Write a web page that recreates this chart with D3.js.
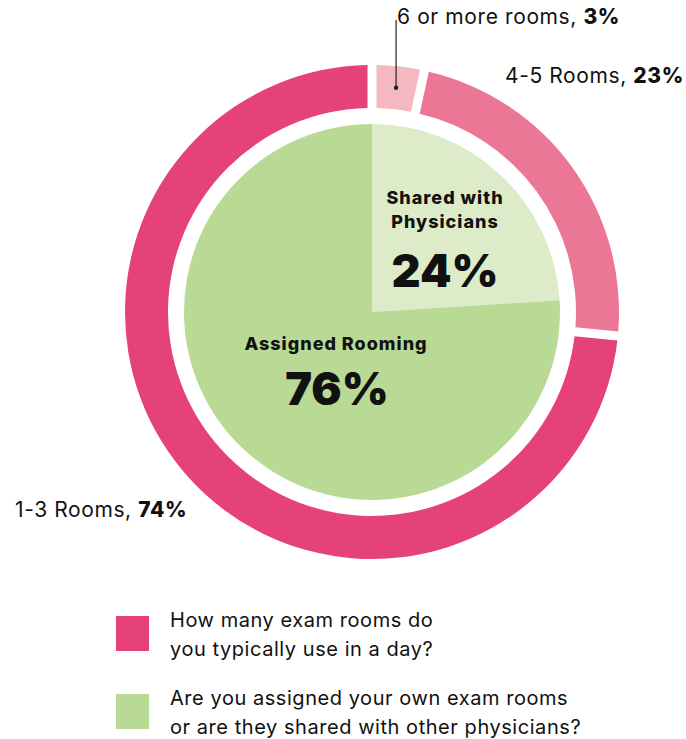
<!DOCTYPE html>
<html>
<head>
<meta charset="utf-8">
<script src="https://cdn.jsdelivr.net/npm/d3@7"></script>
<style>
  html, body { margin: 0; padding: 0; background: #ffffff; }
  svg { display: block; }
  text { font-family: Inter, "Noto Sans", sans-serif; fill: #111111; }
</style>
</head>
<body>
<svg id="chart" width="686" height="739"></svg>
<script>
// Outer ring: how many exam rooms are used in a day
const roomCategories = ["6 or more rooms", "4-5 Rooms", "1-3 Rooms"];
const roomValues = [3, 23, 74];
const roomColors = ["#f5b7c0", "#ec7695", "#e5417b"];

// Inner pie: assigned vs shared exam rooms
const roomingCategories = ["Shared with Physicians", "Assigned Rooming"];
const roomingValues = [24, 76];
const roomingColors = ["#ddebc8", "#b9da95"];

// Legend entries
const legendLines = [
  ["How many exam rooms do", "you typically use in a day?"],
  ["Are you assigned your own exam rooms", "or are they shared with other physicians?"]
];
const legendColors = ["#e5417b", "#b9da95"];

const svg = d3.select("#chart");
const cx = 372, cy = 312;
const ringInner = 204, ringOuter = 247, pieRadius = 188;

const g = svg.append("g").attr("transform", `translate(${cx},${cy})`);

// Outer ring
const ringPie = d3.pie().sort(null).value(d => d.value).padAngle(0.028);
const ringData = ringPie(roomCategories.map((c, i) => ({ name: c, value: roomValues[i], color: roomColors[i] })));
const ringArc = d3.arc().innerRadius(ringInner).outerRadius(ringOuter);
g.selectAll("path.ring").data(ringData).join("path")
  .attr("class", "ring")
  .attr("d", ringArc)
  .attr("fill", d => d.data.color);

// Inner pie
const innerPie = d3.pie().sort(null).value(d => d.value);
const innerData = innerPie(roomingCategories.map((c, i) => ({ name: c, value: roomingValues[i], color: roomingColors[i] })));
const innerArc = d3.arc().innerRadius(0).outerRadius(pieRadius);
g.selectAll("path.inner").data(innerData).join("path")
  .attr("class", "inner")
  .attr("d", innerArc)
  .attr("fill", d => d.data.color);

// Leader line for the small slice
const smallSlice = ringData[0];
const [dx, dy] = ringArc.centroid(smallSlice);
g.append("line")
  .attr("x1", dx).attr("y1", 20 - cy)
  .attr("x2", dx).attr("y2", dy)
  .attr("stroke", "#222").attr("stroke-width", 1.2);
g.append("circle").attr("cx", dx).attr("cy", dy).attr("r", 2.2).attr("fill", "#222");

// Ring labels: "name, value%" with the value in bold
function ringLabel(x, y, d) {
  const t = svg.append("text").attr("x", x).attr("y", y)
    .attr("font-size", 21).attr("letter-spacing", 0.6);
  t.append("tspan").text(d.data.name + ", ");
  t.append("tspan").attr("font-weight", 800).text(d.data.value + "%");
}
ringLabel(397, 24, ringData[0]);
ringLabel(505, 83, ringData[1]);
ringLabel(15, 517, ringData[2]);

// Inner pie labels
const shared = innerData[0].data, assigned = innerData[1].data;
const sharedWords = ["Shared with", "Physicians"];
function boldLabel(x, y, size, spacing, txt) {
  svg.append("text").attr("x", x).attr("y", y).attr("text-anchor", "middle")
    .attr("font-size", size).attr("font-weight", size > 30 ? 900 : 800)
    .attr("letter-spacing", spacing).text(txt);
}
boldLabel(445, 204, 18, 1, sharedWords[0]);
boldLabel(445, 228, 18, 1, sharedWords[1]);
boldLabel(445, 287, 45, 0, shared.value + "%");
boldLabel(336, 350, 18, 1, assigned.name);
boldLabel(337, 405, 45, 0, assigned.value + "%");

// Legend
const legendTop = [616, 694];
legendLines.forEach((lines, i) => {
  svg.append("rect").attr("x", 116).attr("y", legendTop[i]).attr("width", 33).attr("height", 35)
    .attr("fill", legendColors[i]);
  lines.forEach((ln, j) => {
    svg.append("text").attr("x", 170).attr("y", legendTop[i] + 11 + j * 29)
      .attr("font-size", 20).attr("letter-spacing", 0.55).text(ln);
  });
});
</script>
</body>
</html>
